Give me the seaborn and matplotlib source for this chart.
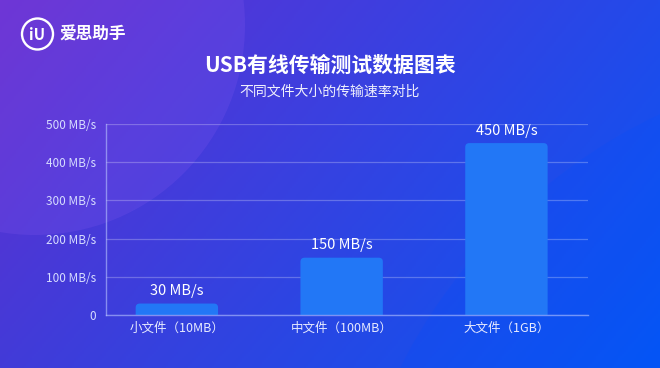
import numpy as np
import pandas as pd
import matplotlib.pyplot as plt
import seaborn as sns
from matplotlib.patches import FancyBboxPatch, Circle

# --- datos ---
categorias = ['小文件（10MB）', '中文件（100MB）', '大文件（1GB）']
velocidades = [30, 150, 450]
ticks_y = [0, 100, 200, 300, 400, 500]
etiquetas_y = ['0', '100 MB/s', '200 MB/s', '300 MB/s', '400 MB/s', '500 MB/s']

titulo = 'USB有线传输测试数据图表'
subtitulo = '不同文件大小的传输速率对比'
marca = '爱思助手'

df = pd.DataFrame({'cat': categorias, 'vel': velocidades})

sns.set_theme(style='white')
plt.rcParams['font.family'] = ['Noto Sans CJK SC', 'DejaVu Sans']

fig = plt.figure(figsize=(6.6, 3.68), dpi=100)

# fondo degradado (4 esquinas)
bg = fig.add_axes([0, 0, 1, 1], zorder=-10)
h, w = 184, 330
tl = np.array([0x66, 0x2e, 0xd0]) / 255
bl = np.array([0x42, 0x3b, 0xd8]) / 255
tr = np.array([0x22, 0x4a, 0xea]) / 255
br = np.array([0x05, 0x57, 0xf4]) / 255
yy, xx = np.mgrid[0:1:h * 1j, 0:1:w * 1j]
img = ((1 - xx)[..., None] * ((1 - yy)[..., None] * tl + yy[..., None] * bl)
       + xx[..., None] * ((1 - yy)[..., None] * tr + yy[..., None] * br))
bg.imshow(img, extent=[0, 660, 368, 0], aspect='auto')
bg.add_patch(Circle((35, 25), 210, color='#b070ff', alpha=0.13, lw=0))
bg.add_patch(Circle((900, 620), 560, color='#0050ff', alpha=0.18, lw=0))
bg.set_xlim(0, 660)
bg.set_ylim(368, 0)
bg.axis('off')

# logo
bg.add_patch(Circle((37.5, 34), 15.5, fill=False, ec='white', lw=1.7))
bg.text(37.5, 35, 'iU', color='white', fontsize=11, fontweight='bold', ha='center', va='center')
bg.text(59, 35, marca, color='white', fontsize=12, fontweight='bold', ha='left', va='center')

# títulos
bg.text(330, 65, titulo, color='white', fontsize=15, fontweight='bold', ha='center', va='center')
bg.text(330, 92, subtitulo, color='white', fontsize=10, ha='center', va='center', alpha=0.92)

# gráfico
ax = fig.add_axes([106 / 660, 1 - 315 / 368, (588 - 106) / 660, (315 - 124) / 368])
ax.set_facecolor('none')
sns.barplot(data=df, x='cat', y='vel', ax=ax, color='#2277f6', width=0.5, saturation=1)

# barras con esquinas redondeadas
for p in list(ax.patches):
    x0, wd, ht = p.get_x(), p.get_width(), p.get_height()
    p.remove()
    ax.add_patch(FancyBboxPatch((x0, -30), wd, ht + 30, boxstyle='round,pad=0,rounding_size=0.025',
                                mutation_aspect=420, fc='#2277f6', ec='none', zorder=2, clip_on=True))

for i, v in enumerate(velocidades):
    ax.annotate(f'{v} MB/s', (i, v), xytext=(0, 4), textcoords='offset points',
                ha='center', va='bottom', color='white', fontsize=10.5, fontweight='medium')

ax.set_xlim(-0.43, 2.495)
ax.set_ylim(0, 500)
ax.set_yticks(ticks_y)
ax.set_yticklabels(etiquetas_y)
ax.set_xlabel('')
ax.set_ylabel('')
ax.grid(axis='y', color='white', alpha=0.25, lw=0.9)
ax.set_axisbelow(True)
for s in ['top', 'right']:
    ax.spines[s].set_visible(False)
for s in ['left', 'bottom']:
    ax.spines[s].set_color('#b8c4ff')
    ax.spines[s].set_alpha(0.6)
    ax.spines[s].set_linewidth(1)
ax.tick_params(axis='y', length=0, pad=7, labelsize=8.5, labelcolor='#d6dcff')
ax.tick_params(axis='x', length=0, pad=5, labelsize=9, labelcolor='#e6eaff')

fig.savefig('out.png', dpi=100)
